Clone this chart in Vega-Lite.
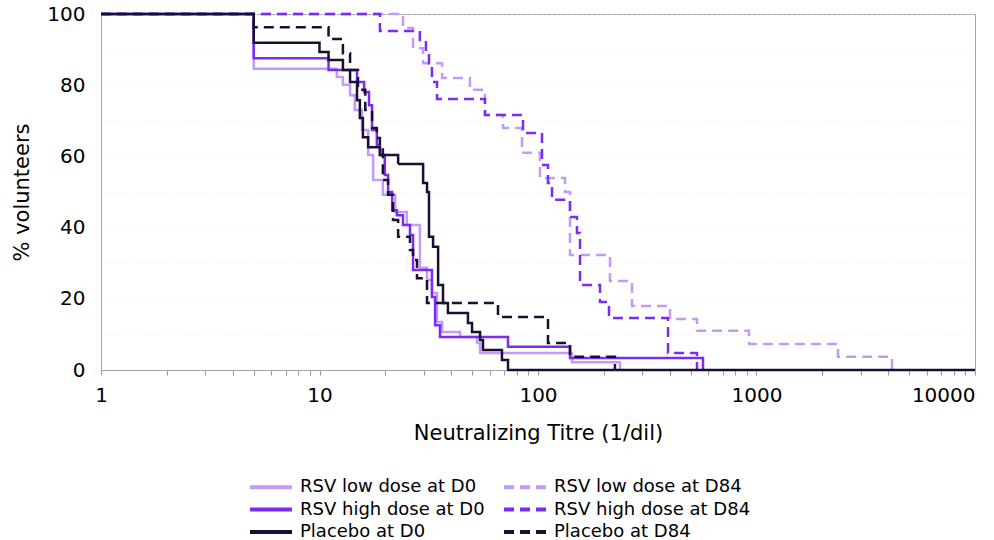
{
  "$schema": "https://vega.github.io/schema/vega-lite/v6.json",
  "width": 874,
  "height": 356,
  "autosize": {"type": "none"},
  "padding": {"left": 101, "top": 14, "right": 19, "bottom": 170},
  "background": "white",
  "config": {
    "font": "DejaVu Sans",
    "view": {"stroke": "#a6a6a6", "strokeWidth": 1}
  },
  "data": {
    "values": [
      {"series": "RSV low dose at D84", "titre": 1, "pct": 100},
      {"series": "RSV low dose at D84", "titre": 24.1, "pct": 96.1},
      {"series": "RSV low dose at D84", "titre": 26.8, "pct": 90.4},
      {"series": "RSV low dose at D84", "titre": 29.8, "pct": 86.2},
      {"series": "RSV low dose at D84", "titre": 36.4, "pct": 82.0},
      {"series": "RSV low dose at D84", "titre": 48.8, "pct": 78.7},
      {"series": "RSV low dose at D84", "titre": 57.2, "pct": 71.6},
      {"series": "RSV low dose at D84", "titre": 69.2, "pct": 68.0},
      {"series": "RSV low dose at D84", "titre": 84.5, "pct": 61.0},
      {"series": "RSV low dose at D84", "titre": 102.1, "pct": 53.9},
      {"series": "RSV low dose at D84", "titre": 132.9, "pct": 50.0},
      {"series": "RSV low dose at D84", "titre": 140.1, "pct": 32.3},
      {"series": "RSV low dose at D84", "titre": 213.5, "pct": 25.0},
      {"series": "RSV low dose at D84", "titre": 269.3, "pct": 18.0},
      {"series": "RSV low dose at D84", "titre": 401.9, "pct": 14.3},
      {"series": "RSV low dose at D84", "titre": 534.2, "pct": 11.0},
      {"series": "RSV low dose at D84", "titre": 924.3, "pct": 7.3},
      {"series": "RSV low dose at D84", "titre": 2360, "pct": 3.7},
      {"series": "RSV low dose at D84", "titre": 4170, "pct": 0},

      {"series": "RSV high dose at D84", "titre": 1, "pct": 100},
      {"series": "RSV high dose at D84", "titre": 18.9, "pct": 95.2},
      {"series": "RSV high dose at D84", "titre": 28.8, "pct": 92.7},
      {"series": "RSV high dose at D84", "titre": 30.7, "pct": 89.3},
      {"series": "RSV high dose at D84", "titre": 31.7, "pct": 86.2},
      {"series": "RSV high dose at D84", "titre": 32.7, "pct": 80.9},
      {"series": "RSV high dose at D84", "titre": 34.5, "pct": 76.1},
      {"series": "RSV high dose at D84", "titre": 57.2, "pct": 71.6},
      {"series": "RSV high dose at D84", "titre": 85.4, "pct": 66.6},
      {"series": "RSV high dose at D84", "titre": 104.3, "pct": 57.6},
      {"series": "RSV high dose at D84", "titre": 111.1, "pct": 52.5},
      {"series": "RSV high dose at D84", "titre": 115.9, "pct": 47.8},
      {"series": "RSV high dose at D84", "titre": 140.1, "pct": 43.0},
      {"series": "RSV high dose at D84", "titre": 150.8, "pct": 38.5},
      {"series": "RSV high dose at D84", "titre": 155.7, "pct": 23.9},
      {"series": "RSV high dose at D84", "titre": 192.2, "pct": 19.1},
      {"series": "RSV high dose at D84", "titre": 211.3, "pct": 14.6},
      {"series": "RSV high dose at D84", "titre": 393.6, "pct": 4.8},
      {"series": "RSV high dose at D84", "titre": 534.2, "pct": 0},

      {"series": "RSV low dose at D0", "titre": 1, "pct": 100},
      {"series": "RSV low dose at D0", "titre": 5, "pct": 84.6},
      {"series": "RSV low dose at D0", "titre": 12.0, "pct": 82.3},
      {"series": "RSV low dose at D0", "titre": 12.8, "pct": 80.1},
      {"series": "RSV low dose at D0", "titre": 13.8, "pct": 77.2},
      {"series": "RSV low dose at D0", "titre": 14.5, "pct": 73.0},
      {"series": "RSV low dose at D0", "titre": 15.65, "pct": 67.4},
      {"series": "RSV low dose at D0", "titre": 16.7, "pct": 60.4},
      {"series": "RSV low dose at D0", "titre": 17.6, "pct": 53.4},
      {"series": "RSV low dose at D0", "titre": 19.5, "pct": 49.2},
      {"series": "RSV low dose at D0", "titre": 22.2, "pct": 44.4},
      {"series": "RSV low dose at D0", "titre": 25.1, "pct": 40.7},
      {"series": "RSV low dose at D0", "titre": 28.8, "pct": 28.7},
      {"series": "RSV low dose at D0", "titre": 31.05, "pct": 25.3},
      {"series": "RSV low dose at D0", "titre": 32.7, "pct": 21.6},
      {"series": "RSV low dose at D0", "titre": 34.5, "pct": 13.5},
      {"series": "RSV low dose at D0", "titre": 36.4, "pct": 10.7},
      {"series": "RSV low dose at D0", "titre": 43.95, "pct": 9.3},
      {"series": "RSV low dose at D0", "titre": 52.6, "pct": 7.6},
      {"series": "RSV low dose at D0", "titre": 54.3, "pct": 4.8},
      {"series": "RSV low dose at D0", "titre": 143.1, "pct": 2.2},
      {"series": "RSV low dose at D0", "titre": 237.3, "pct": 0},

      {"series": "RSV high dose at D0", "titre": 1, "pct": 100},
      {"series": "RSV high dose at D0", "titre": 5, "pct": 87.6},
      {"series": "RSV high dose at D0", "titre": 11, "pct": 84.3},
      {"series": "RSV high dose at D0", "titre": 14.85, "pct": 80.9},
      {"series": "RSV high dose at D0", "titre": 16, "pct": 78.1},
      {"series": "RSV high dose at D0", "titre": 16.85, "pct": 74.4},
      {"series": "RSV high dose at D0", "titre": 17.4, "pct": 67.4},
      {"series": "RSV high dose at D0", "titre": 18.3, "pct": 63.2},
      {"series": "RSV high dose at D0", "titre": 18.9, "pct": 60.4},
      {"series": "RSV high dose at D0", "titre": 19.9, "pct": 54.8},
      {"series": "RSV high dose at D0", "titre": 20.6, "pct": 50.0},
      {"series": "RSV high dose at D0", "titre": 21.5, "pct": 44.9},
      {"series": "RSV high dose at D0", "titre": 22.6, "pct": 43.5},
      {"series": "RSV high dose at D0", "titre": 24.1, "pct": 40.7},
      {"series": "RSV high dose at D0", "titre": 25.95, "pct": 37.9},
      {"series": "RSV high dose at D0", "titre": 26.8, "pct": 28.1},
      {"series": "RSV high dose at D0", "titre": 32.7, "pct": 20.5},
      {"series": "RSV high dose at D0", "titre": 33.8, "pct": 12.6},
      {"series": "RSV high dose at D0", "titre": 35.6, "pct": 9.3},
      {"series": "RSV high dose at D0", "titre": 72.9, "pct": 6.5},
      {"series": "RSV high dose at D0", "titre": 140.1, "pct": 3.4},
      {"series": "RSV high dose at D0", "titre": 569, "pct": 0},

      {"series": "Placebo at D84", "titre": 1, "pct": 100},
      {"series": "Placebo at D84", "titre": 5, "pct": 96.3},
      {"series": "Placebo at D84", "titre": 11, "pct": 93.0},
      {"series": "Placebo at D84", "titre": 12.8, "pct": 89.0},
      {"series": "Placebo at D84", "titre": 13.8, "pct": 84.3},
      {"series": "Placebo at D84", "titre": 15.0, "pct": 78.7},
      {"series": "Placebo at D84", "titre": 16.2, "pct": 73.0},
      {"series": "Placebo at D84", "titre": 17.4, "pct": 68.0},
      {"series": "Placebo at D84", "titre": 18.3, "pct": 65.2},
      {"series": "Placebo at D84", "titre": 18.9, "pct": 62.6},
      {"series": "Placebo at D84", "titre": 19.5, "pct": 53.4},
      {"series": "Placebo at D84", "titre": 20.6, "pct": 49.2},
      {"series": "Placebo at D84", "titre": 21.7, "pct": 42.1},
      {"series": "Placebo at D84", "titre": 22.9, "pct": 37.4},
      {"series": "Placebo at D84", "titre": 25.95, "pct": 33.7},
      {"series": "Placebo at D84", "titre": 26.8, "pct": 30.9},
      {"series": "Placebo at D84", "titre": 27.94, "pct": 25.8},
      {"series": "Placebo at D84", "titre": 31.05, "pct": 18.8},
      {"series": "Placebo at D84", "titre": 65.6, "pct": 14.9},
      {"series": "Placebo at D84", "titre": 111.1, "pct": 7.6},
      {"series": "Placebo at D84", "titre": 140.1, "pct": 3.7},
      {"series": "Placebo at D84", "titre": 225, "pct": 0},

      {"series": "Placebo at D0", "titre": 1, "pct": 100},
      {"series": "Placebo at D0", "titre": 5, "pct": 91.9},
      {"series": "Placebo at D0", "titre": 10, "pct": 89.3},
      {"series": "Placebo at D0", "titre": 11, "pct": 87.1},
      {"series": "Placebo at D0", "titre": 12.8, "pct": 84.3},
      {"series": "Placebo at D0", "titre": 13.8, "pct": 80.9},
      {"series": "Placebo at D0", "titre": 14.85, "pct": 75.8},
      {"series": "Placebo at D0", "titre": 15.3, "pct": 70.8},
      {"series": "Placebo at D0", "titre": 15.8, "pct": 65.4},
      {"series": "Placebo at D0", "titre": 16.7, "pct": 62.6},
      {"series": "Placebo at D0", "titre": 18.9, "pct": 60.4},
      {"series": "Placebo at D0", "titre": 22.9, "pct": 57.9},
      {"series": "Placebo at D0", "titre": 29.8, "pct": 52.5},
      {"series": "Placebo at D0", "titre": 31.05, "pct": 50.0},
      {"series": "Placebo at D0", "titre": 31.7, "pct": 37.4},
      {"series": "Placebo at D0", "titre": 33.1, "pct": 34.6},
      {"series": "Placebo at D0", "titre": 34.9, "pct": 23.9},
      {"series": "Placebo at D0", "titre": 36.75, "pct": 18.8},
      {"series": "Placebo at D0", "titre": 38.7, "pct": 16.0},
      {"series": "Placebo at D0", "titre": 47.8, "pct": 13.2},
      {"series": "Placebo at D0", "titre": 49.9, "pct": 10.7},
      {"series": "Placebo at D0", "titre": 54.3, "pct": 8.4},
      {"series": "Placebo at D0", "titre": 56.0, "pct": 5.6},
      {"series": "Placebo at D0", "titre": 68.4, "pct": 2.8},
      {"series": "Placebo at D0", "titre": 72.9, "pct": 0},
      {"series": "Placebo at D0", "titre": 10000, "pct": 0}
    ]
  },
  "mark": {"type": "line", "interpolate": "step-after", "strokeWidth": 2.5},
  "encoding": {
    "x": {
      "field": "titre",
      "type": "quantitative",
      "scale": {"type": "log", "domain": [1, 10000], "nice": false},
      "axis": {
        "title": "Neutralizing Titre (1/dil)",
        "values": [1,2,3,4,5,6,7,8,9,10,20,30,40,50,60,70,80,90,100,200,300,400,500,600,700,800,900,1000,2000,3000,4000,5000,6000,7000,8000,9000,10000],
        "labelExpr": "indexof([1,10,100,1000,10000], datum.value) >= 0 ? format(datum.value, 'd') : ''",
        "labelAlign": {"condition": {"test": "datum.value == 10000", "value": "right"}, "value": "center"},
        "labelFontSize": 20,
        "labelColor": "#000000",
        "labelFlush": false,
        "labelOverlap": false,
        "labelPadding": 10,
        "tickSize": 5,
        "tickColor": "#999999",
        "domainColor": "#a6a6a6",
        "grid": false,
        "titleFontSize": 21,
        "titleFontWeight": "normal",
        "titleColor": "#000000",
        "titlePadding": 17
      }
    },
    "y": {
      "field": "pct",
      "type": "quantitative",
      "scale": {"domain": [0, 100], "nice": false},
      "axis": {
        "title": "% volunteers",
        "values": [0,10,20,30,40,50,60,70,80,90,100],
        "labelExpr": "datum.value % 20 == 0 ? datum.label : ''",
        "labelFontSize": 20,
        "labelColor": "#000000",
        "labelPadding": 16,
        "labelFlush": false,
        "ticks": false,
        "domainColor": "#a6a6a6",
        "grid": true,
        "gridColor": "#e8e8e8",
        "gridDash": [1, 4],
        "titleFontSize": 21,
        "titleFontWeight": "normal",
        "titleColor": "#000000",
        "titlePadding": 14
      }
    },
    "color": {
      "field": "series",
      "type": "nominal",
      "scale": {
        "domain": ["RSV low dose at D0", "RSV low dose at D84", "RSV high dose at D0", "RSV high dose at D84", "Placebo at D0", "Placebo at D84"],
        "range": ["#c49af7", "#c49af7", "#7b2cf0", "#7b2cf0", "#1a0f33", "#1a0f33"]
      },
      "legend": {
        "title": null,
        "orient": "none",
        "legendX": 157.5,
        "legendY": 460.5,
        "columns": 2,
        "direction": "horizontal",
        "columnPadding": 10,
        "rowPadding": 0.5,
        "symbolType": "M-2,0H2",
        "symbolSize": 441,
        "symbolStrokeWidth": 4,
        "labelFontSize": 18,
        "labelColor": "#000000",
        "labelOffset": 16.5,
        "labelLimit": 0,
        "padding": 0
      }
    },
    "strokeDash": {
      "field": "series",
      "type": "nominal",
      "scale": {
        "domain": ["RSV low dose at D0", "RSV low dose at D84", "RSV high dose at D0", "RSV high dose at D84", "Placebo at D0", "Placebo at D84"],
        "range": [[1, 0], [10, 6], [1, 0], [10, 6], [1, 0], [10, 6]]
      },
      "legend": {
        "title": null,
        "orient": "none",
        "legendX": 157.5,
        "legendY": 460.5,
        "columns": 2,
        "direction": "horizontal",
        "columnPadding": 10,
        "rowPadding": 0.5,
        "symbolType": "M-2,0H2",
        "symbolSize": 441,
        "symbolStrokeWidth": 4,
        "labelFontSize": 18,
        "labelColor": "#000000",
        "labelOffset": 16.5,
        "labelLimit": 0,
        "padding": 0
      }
    }
  }
}
